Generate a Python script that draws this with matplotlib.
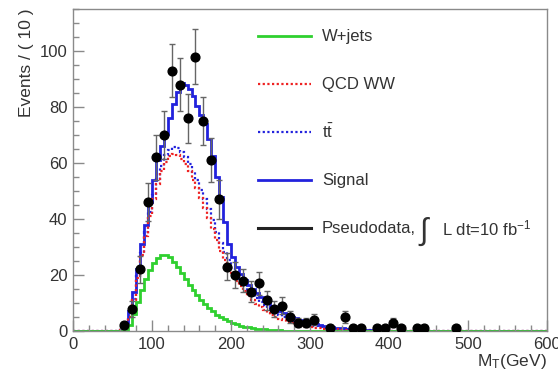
import numpy as np
import matplotlib
matplotlib.use("Agg")
import matplotlib.pyplot as plt
from matplotlib.ticker import MultipleLocator

plt.rcParams['font.family'] = ['Liberation Sans', 'DejaVu Sans']
plt.rcParams['mathtext.fontset'] = 'custom'
plt.rcParams['mathtext.rm'] = 'Liberation Sans'
plt.rcParams['mathtext.it'] = 'Liberation Sans'

# Histogram binning (GeV), 5 GeV bins, values start at 60 GeV
BIN_WIDTH = 5
FIRST_EDGE = 60

# Stacked heights (each includes the ones below it)
h_wjets = [0, 0.5, 2, 6, 10.5, 14.5, 18.5, 21.8, 24.3, 26.2, 27.2, 27.2, 26.3, 24.8,
           22.8, 20.7, 18.6, 16.6, 14.6, 12.8, 11.1, 9.6, 8.2, 7.0, 5.9, 5.0, 4.2,
           3.5, 2.9, 2.4, 1.9, 1.6, 1.3, 1.1, 0.9, 0.7, 0.6, 0.5, 0.4, 0.3, 0.25,
           0.2, 0.15, 0.1, 0.1, 0.1]
h_qcdww = [0.3, 1.5, 5, 11, 19, 27, 34, 41, 47, 52.5, 57, 60.5, 62.5, 63.2, 62.8,
           61.5, 59.5, 57, 54, 51, 47.5, 44, 40.5, 36.5, 32.5, 28.5, 25.5, 22.5, 20,
           18, 16, 14.2, 12.5, 11, 9.8, 8.6, 7.5, 6.6, 5.8, 5.0, 4.4, 3.8, 3.3, 2.9,
           2.5, 2.2, 1.9, 1.6, 1.4, 1.2, 1.05, 0.9, 0.8, 0.7, 0.6, 0.5, 0.45, 0.4,
           0.35, 0.3, 0.25, 0.2, 0.2, 0.15, 0.15, 0.1, 0.1, 0.1]
h_ttbar = [0.3, 1.6, 5.2, 11.5, 19.7, 28, 35.2, 42.4, 48.6, 54.3, 59, 62.7, 64.8,
           65.6, 65.3, 64.1, 62.2, 59.8, 56.9, 54, 50.5, 47, 43.5, 39.5, 35.5, 31.4,
           28.3, 25.2, 22.6, 20.5, 18.4, 16.5, 14.7, 13.1, 11.8, 10.5, 9.3, 8.3, 7.4,
           6.5, 5.8, 5.1, 4.5, 4.0, 3.5, 3.1, 2.7, 2.3, 2.0, 1.8, 1.6, 1.4, 1.25,
           1.1, 0.95, 0.85, 0.75, 0.65, 0.55, 0.5, 0.45, 0.4, 0.35, 0.3, 0.25, 0.2,
           0.2, 0.15]
h_signal = [0.5, 2.5, 7, 14, 22, 31, 38, 46, 54, 61, 66, 70.5, 76, 81, 85.5, 88.5,
            88, 86.5, 84, 80.5, 77, 74, 68.5, 62.5, 55, 48, 39, 31, 26.5, 23, 20.5,
            18.3, 16.5, 15, 13.6, 12.3, 11.2, 10.1, 9.1, 8.2, 7.3, 6.5, 5.8, 5.1,
            4.5, 4.0, 3.5, 3.1, 2.7, 2.4, 2.1, 1.85, 1.6, 1.4, 1.25, 1.1, 0.95, 0.85,
            0.75, 0.65, 0.55, 0.5, 0.45, 0.4, 0.35, 0.3, 0.25, 0.2]

# Pseudodata (10 GeV bins)
data_x = [65, 75, 85, 95, 105, 115, 125, 135, 145, 155, 165, 175, 185, 195, 205,
          215, 225, 235, 245, 255, 265, 275, 285, 295, 305, 325, 345, 355, 365,
          385, 395, 405, 415, 435, 445, 485]
data_y = [2, 8, 22, 46, 62, 70, 93, 88, 76, 98, 75, 61, 47, 23, 20,
          18, 14, 17, 11, 8, 9, 5, 3, 3, 4, 1, 5, 1, 1,
          1, 1, 3, 1, 1, 1, 1]
data_err = [1.4, 2.8, 4.7, 6.8, 7.9, 8.4, 9.6, 9.4, 8.7, 9.9, 8.7, 7.8, 6.9, 4.8, 4.5,
            4.2, 3.7, 4.1, 3.3, 2.8, 3.0, 2.2, 1.7, 1.7, 2.0, 1.0, 2.2, 1.0, 1.0,
            1.0, 1.0, 1.7, 1.0, 1.0, 1.0, 1.0]

GREEN = '#2fd02f'
RED = '#ee2222'
BLUE = '#2222dd'
TXT = '#333333'
FRAME = '#8a8a8a'


def full_hist(vals):
    # pad to cover 0..600 GeV
    n_bins = 600 // BIN_WIDTH
    out = np.zeros(n_bins)
    start = FIRST_EDGE // BIN_WIDTH
    out[start:start + len(vals)] = vals
    return out


edges = np.arange(0, 600 + BIN_WIDTH, BIN_WIDTH)

fig = plt.figure(figsize=(5.58, 3.72), dpi=100)
ax = fig.add_axes([0.131, 0.110, 0.849, 0.866])

dots = (0, (1.0, 1.1))
ax.stairs(full_hist(h_signal), edges, color=BLUE, lw=2.0, baseline=None)
ax.stairs(full_hist(h_ttbar), edges, color=BLUE, lw=1.6, ls=dots, baseline=None)
ax.stairs(full_hist(h_qcdww), edges, color=RED, lw=1.6, ls=dots, baseline=None)
ax.stairs(full_hist(h_wjets), edges, color=GREEN, lw=2.0, baseline=None)

ax.errorbar(data_x, data_y, yerr=data_err, fmt='o', color='black', ms=6.3,
            ecolor='#666666', elinewidth=1.0, capsize=2, capthick=1.0, zorder=5)

ax.set_xlim(0, 600)
ax.set_ylim(0, 115)

ax.xaxis.set_major_locator(MultipleLocator(100))
ax.xaxis.set_minor_locator(MultipleLocator(20))
ax.yaxis.set_major_locator(MultipleLocator(20))
ax.yaxis.set_minor_locator(MultipleLocator(5))
ax.tick_params(which='both', direction='in', colors=FRAME, labelcolor=TXT,
               labelsize=12)
ax.tick_params(which='major', length=8, width=1)
ax.tick_params(which='minor', length=4, width=1)
ax.tick_params(axis='x', pad=4)
ax.tick_params(axis='y', pad=4)
for s in ax.spines.values():
    s.set_color(FRAME)
    s.set_linewidth(1.0)

ax.set_ylabel('Events / ( 10 )', fontsize=12.5, color=TXT, loc='top')
ax.yaxis.set_label_coords(-0.082, 1.0)
ax.set_xlabel(r'M$_T$(GeV)', fontsize=12.5, color=TXT, loc='right')
ax.xaxis.set_label_coords(1.0, -0.065)

# legend, drawn by hand to keep even row spacing
leg_entries = [
    (GREEN, '-', 2.0, 'W+jets'),
    (RED, dots, 1.6, 'QCD WW'),
    (BLUE, dots, 1.6, r't$\bar{\rm t}$'),
    (BLUE, '-', 2.0, 'Signal'),
    ('#222222', '-', 2.2, 'Pseudodata,'),
]
x0, x1, xt = 0.39, 0.503, 0.525
ytop, dy = 0.915, 0.149
for i, (c, ls, lw, lab) in enumerate(leg_entries):
    y = ytop - i * dy
    ax.plot([x0, x1], [y, y], color=c, ls=ls, lw=lw, transform=ax.transAxes,
            clip_on=False)
    ax.text(xt, y, lab, transform=ax.transAxes, fontsize=12, color=TXT,
            va='center', ha='left')
y = ytop - 4 * dy
ax.text(0.742, y - 0.01, r'$\int$', transform=ax.transAxes, fontsize=22,
        color=TXT, va='center', ha='center')
ax.text(0.778, y, r'L dt=10 fb$^{-1}$', transform=ax.transAxes, fontsize=12,
        color=TXT, va='center', ha='left')

fig.savefig('out.png', dpi=100)
